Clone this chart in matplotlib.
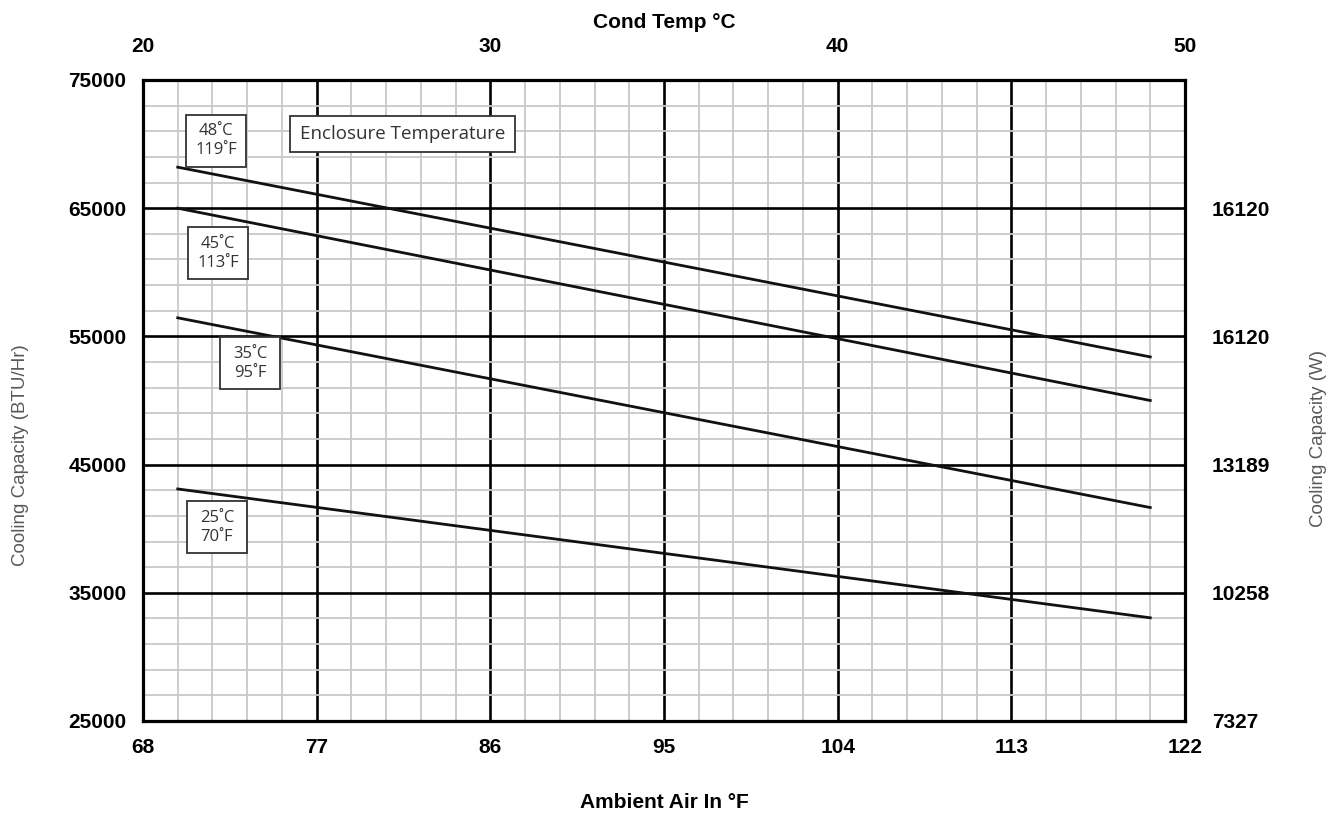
import matplotlib
matplotlib.use("Agg")
import matplotlib.pyplot as plt
import numpy as np
from matplotlib.ticker import FixedLocator
from matplotlib.patches import Rectangle

# ---- data ----
x_range = [69.8, 120.2]
series_names = ["48˚C\n119˚F", "45˚C\n113˚F", "35˚C\n95˚F", "25˚C\n70˚F"]
line_48 = [68200, 53400]
line_45 = [65000, 50000]
line_35 = [56450, 41650]
line_25 = [43100, 33050]
x_ticks = [68, 77, 86, 95, 104, 113, 122]
y_ticks = [25000, 35000, 45000, 55000, 65000, 75000]
top_ticks_F = [68, 86, 104, 122]
top_labels_C = ["20", "30", "40", "50"]
right_ticks = [25000, 35000, 45000, 55000, 65000]
right_labels = ["7327", "10258", "13189", "16120", "16120"]

plt.rcParams['font.family'] = ['Liberation Sans', 'DejaVu Sans']
TICK_FS = 15

fig = plt.figure(figsize=(13.29, 8.14), dpi=100)
ax = fig.add_axes([143/1329, 93/814, (1185-143)/1329, (721-80)/814])

ax.set_xlim(68, 122)
ax.set_ylim(25000, 75000)

# grid
ax.xaxis.set_major_locator(FixedLocator(x_ticks))
ax.yaxis.set_major_locator(FixedLocator(y_ticks))
ax.xaxis.set_minor_locator(FixedLocator(np.arange(68, 122.01, 1.8)))
ax.yaxis.set_minor_locator(FixedLocator(np.arange(25000, 75001, 2000)))
ax.grid(which='minor', color='#c8c8c8', linewidth=1.3, zorder=0)
ax.grid(which='major', color='black', linewidth=1.9, zorder=1)
ax.set_axisbelow(True)
ax.tick_params(which='both', length=0)
for s in ax.spines.values():
    s.set_linewidth(2.3)
    s.set_color('black')

ax.set_xticklabels([str(v) for v in x_ticks], fontsize=TICK_FS, fontweight='bold')
ax.set_yticklabels([str(v) for v in y_ticks], fontsize=TICK_FS, fontweight='bold')
ax.tick_params(axis='x', pad=12)
ax.tick_params(axis='y', pad=12)

for ys in [line_48, line_45, line_35, line_25]:
    ax.plot(x_range, ys, color='#111111', linewidth=2.0, zorder=3)

ax.set_xlabel("Ambient Air In °F", fontsize=TICK_FS, fontweight='bold')
ax.xaxis.set_label_coords(0.5, -0.113)
ax.set_ylabel("Cooling Capacity (BTU/Hr)", fontsize=13.5, color='#595959')
ax.yaxis.set_label_coords(-0.109, 0.415)

# top axis
axt = ax.twiny()
axt.set_xlim(ax.get_xlim())
axt.xaxis.set_major_locator(FixedLocator(top_ticks_F))
axt.set_xticklabels(top_labels_C, fontsize=TICK_FS, fontweight='bold')
axt.tick_params(length=0, pad=17)
axt.set_xlabel("Cond Temp °C", fontsize=TICK_FS, fontweight='bold')
axt.xaxis.set_label_coords(0.5, 1.081)
for s in axt.spines.values():
    s.set_visible(False)

# right axis
axr = ax.twinx()
axr.set_ylim(ax.get_ylim())
axr.yaxis.set_major_locator(FixedLocator(right_ticks))
axr.set_yticklabels(right_labels, fontsize=TICK_FS, fontweight='bold')
axr.tick_params(length=0, pad=19.5)
axr.set_ylabel("Cooling Capacity (W)", fontsize=13.5, color='#595959', rotation=90)
axr.yaxis.set_label_coords(1.12, 0.44)
for s in axr.spines.values():
    s.set_visible(False)

# labels in boxes (centers in data coords, box size in data units)
box_pos = [(71.78, 70250), (71.89, 61470), (73.57, 52890), (71.83, 40130)]
bw, bh = 3.11, 4056
for name, (bx, by) in zip(series_names, box_pos):
    ax.add_patch(Rectangle((bx - bw/2, by - bh/2), bw, bh, fc='white', ec='#333333',
                           lw=1.3, zorder=5))
    ax.text(bx, by, name, ha='center', va='center', fontsize=12,
            family=['Open Sans', 'DejaVu Sans'], color='#333333', linespacing=1.25,
            zorder=6)
ax.text(81.45, 70790, "Enclosure Temperature", ha='center', va='center', fontsize=13.5,
        family=['Open Sans', 'DejaVu Sans'], color='#333333',
        bbox=dict(boxstyle='square,pad=0.5', fc='white', ec='#333333', lw=1.3), zorder=5)

fig.savefig("out.png", dpi=100, facecolor='white')
